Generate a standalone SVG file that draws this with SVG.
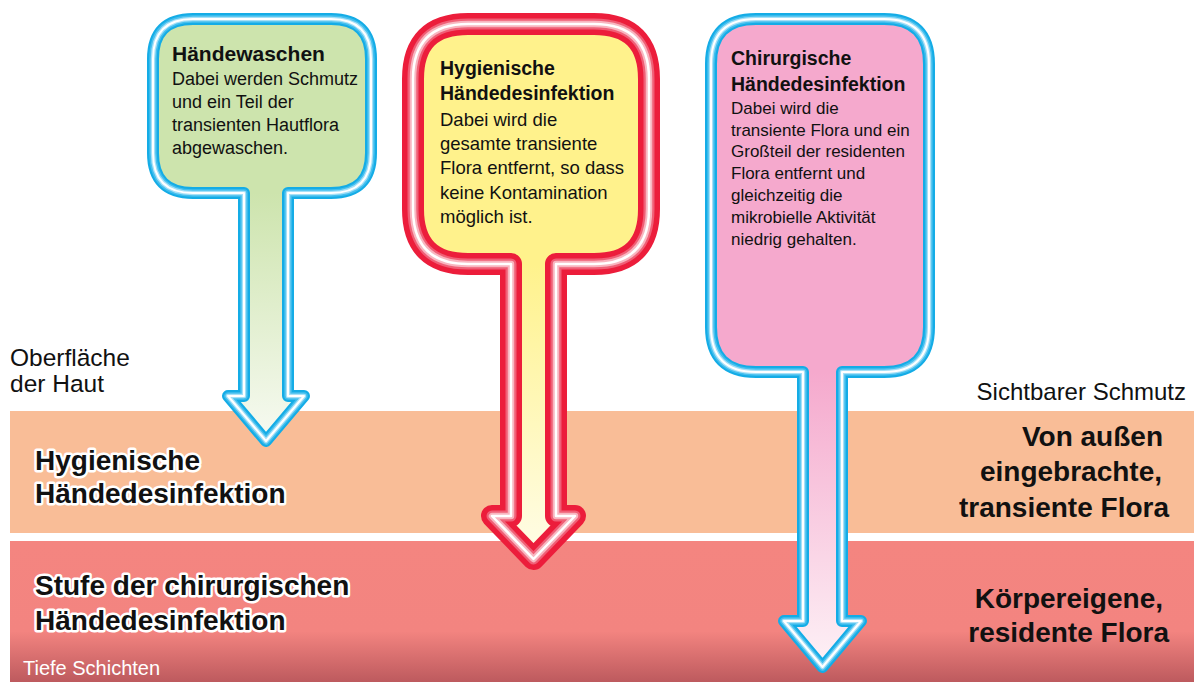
<svg xmlns="http://www.w3.org/2000/svg" width="1194" height="682" viewBox="0 0 1194 682">
<defs>
<style>
text{font-family:"Liberation Sans",Arial,sans-serif;fill:#111}
.b{font-weight:bold}
.ol{paint-order:stroke;stroke:#fff;stroke-width:5;stroke-linejoin:round}
.shape{stroke-linejoin:round;fill:none}
.b1{stroke:#14ACE6;stroke-width:12}
.b2{stroke:#45BFEE;stroke-width:7.5}
.b3{stroke:#A6E0F7;stroke-width:4.5}
.b4{stroke:#fff;stroke-width:2}
.r1{stroke:#EC1D3B;stroke-width:22}
.r2{stroke:#F05F76;stroke-width:11}
.r3{stroke:#F8B6C0;stroke-width:6.5}
.r4{stroke:#fff;stroke-width:2.5}
</style>
<linearGradient id="gGreen" gradientUnits="userSpaceOnUse" x1="0" y1="193" x2="0" y2="441">
<stop offset="0" stop-color="#CDE4AD"/><stop offset="1" stop-color="#F7FAF2"/>
</linearGradient>
<linearGradient id="gYellow" gradientUnits="userSpaceOnUse" x1="0" y1="264" x2="0" y2="559">
<stop offset="0" stop-color="#FFF28C"/><stop offset="1" stop-color="#FFFDE8"/>
</linearGradient>
<linearGradient id="gPink" gradientUnits="userSpaceOnUse" x1="0" y1="372" x2="0" y2="667">
<stop offset="0" stop-color="#F5A9CD"/><stop offset="1" stop-color="#FDF1F6"/>
</linearGradient>
<linearGradient id="gBand2" x1="0" y1="0" x2="0" y2="1">
<stop offset="0" stop-color="#F48580"/><stop offset="0.64" stop-color="#F38480"/><stop offset="1" stop-color="#BD5A5E"/>
</linearGradient>
<path id="pLeft" d="M193 19 H331 Q371 19 371 59 V153 Q371 193 331 193 H288 V396 H304 L266 441 L228 396 H244 V193 H193 Q153 193 153 153 V59 Q153 19 193 19 Z"/>
<path id="pMid" d="M468 24 H594 Q649 24 649 79 V209 Q649 264 594 264 H556 V516 H575 L533.5 559 L492 516 H511 V264 H468 Q413 264 413 209 V79 Q413 24 468 24 Z"/>
<path id="pRight" d="M756 19 H884 Q929 19 929 64 V327 Q929 372 884 372 H842 V621 H861 L822.5 667 L784 621 H803 V372 H756 Q711 372 711 327 V64 Q711 19 756 19 Z"/>
</defs>
<rect width="1194" height="682" fill="#fff"/>
<g id="layers">
<rect id="band-transient" x="10" y="411" width="1184" height="122" fill="#F9BD97"/>
<rect id="band-resident" x="10" y="541" width="1184" height="141" fill="url(#gBand2)"/>
<text x="10" y="366" font-size="24.5">Oberfläche</text>
<text x="10" y="392" font-size="24.5">der Haut</text>
<text x="1186" y="400" font-size="24" text-anchor="end">Sichtbarer Schmutz</text>
<text class="b ol" x="35" y="470" font-size="28">Hygienische</text>
<text class="b ol" x="35" y="503" font-size="28">Händedesinfektion</text>
<text class="b ol" x="35" y="595" font-size="28">Stufe der chirurgischen</text>
<text class="b ol" x="35" y="630" font-size="28">Händedesinfektion</text>
<text class="b" x="1163" y="446" font-size="28" text-anchor="end">Von außen</text>
<text class="b" x="1162" y="481" font-size="28" text-anchor="end">eingebrachte,</text>
<text class="b" x="1169" y="517" font-size="28" text-anchor="end">transiente Flora</text>
<text class="b" x="1163" y="608" font-size="28" text-anchor="end">Körpereigene,</text>
<text class="b" x="1169" y="642" font-size="28" text-anchor="end">residente Flora</text>
<text x="23" y="675" font-size="20" style="fill:#fff">Tiefe Schichten</text>
</g>
<g id="node-haendewaschen">
<use href="#pLeft" fill="url(#gGreen)"/>
<use href="#pLeft" class="shape b1"/><use href="#pLeft" class="shape b2"/><use href="#pLeft" class="shape b3"/><use href="#pLeft" class="shape b4"/>
<text class="b" x="172" y="61" font-size="21">Händewaschen</text>
<text x="172" y="85" font-size="18">Dabei werden Schmutz</text>
<text x="172" y="108" font-size="18">und ein Teil der</text>
<text x="172" y="131" font-size="18">transienten Hautflora</text>
<text x="172" y="154" font-size="18">abgewaschen.</text>
</g>
<g id="node-hygienisch">
<use href="#pMid" fill="url(#gYellow)"/>
<use href="#pMid" class="shape r1"/><use href="#pMid" class="shape r2"/><use href="#pMid" class="shape r3"/><use href="#pMid" class="shape r4"/>
<text class="b" x="440" y="75" font-size="19.5">Hygienische</text>
<text class="b" x="440" y="100" font-size="19.5">Händedesinfektion</text>
<text x="440" y="126" font-size="18.5">Dabei wird die</text>
<text x="440" y="150" font-size="18.5">gesamte transiente</text>
<text x="440" y="174" font-size="18.5">Flora entfernt, so dass</text>
<text x="440" y="199" font-size="18.5">keine Kontamination</text>
<text x="440" y="223" font-size="18.5">möglich ist.</text>
</g>
<g id="node-chirurgisch">
<use href="#pRight" fill="url(#gPink)"/>
<use href="#pRight" class="shape b1"/><use href="#pRight" class="shape b2"/><use href="#pRight" class="shape b3"/><use href="#pRight" class="shape b4"/>
<text class="b" x="731" y="65" font-size="19.5">Chirurgische</text>
<text class="b" x="731" y="91" font-size="19.5">Händedesinfektion</text>
<text x="731" y="114" font-size="17">Dabei wird die</text>
<text x="731" y="136" font-size="17">transiente Flora und ein</text>
<text x="731" y="157" font-size="17">Großteil der residenten</text>
<text x="731" y="179" font-size="17">Flora entfernt und</text>
<text x="731" y="201" font-size="17">gleichzeitig die</text>
<text x="731" y="223" font-size="17">mikrobielle Aktivität</text>
<text x="731" y="245" font-size="17">niedrig gehalten.</text>
</g>
</svg>
